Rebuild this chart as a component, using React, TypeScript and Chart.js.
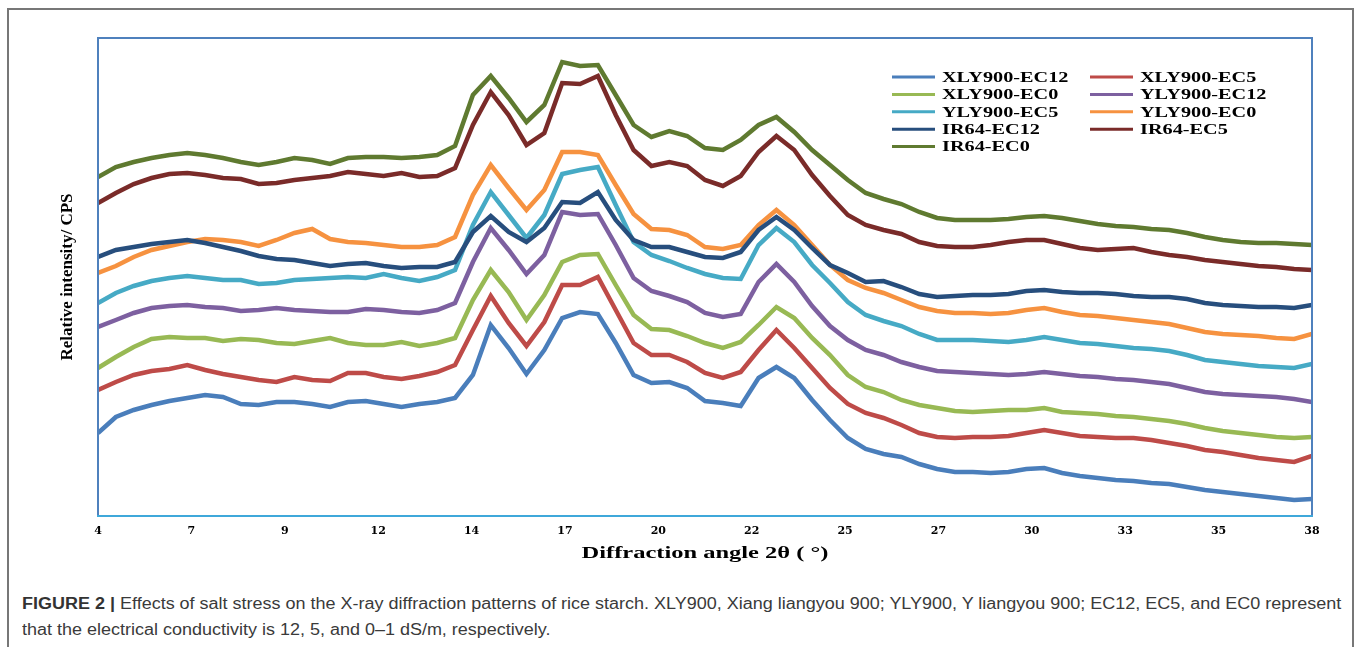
import React, { useEffect, useRef } from 'react';
import { Chart, registerables } from 'chart.js';

Chart.register(...registerables);

// Diffraction angle 2θ (degrees), sampled every 0.5°
const angles = [
  4, 4.5, 5, 5.5, 6, 6.5, 7, 7.5, 8, 8.5, 9, 9.5, 10, 10.5, 11, 11.5, 12, 12.5, 13, 13.5,
  14, 14.5, 15, 15.5, 16, 16.5, 17, 17.5, 18, 18.5, 19, 19.5, 20, 20.5, 21, 21.5, 22, 22.5, 23, 23.5,
  24, 24.5, 25, 25.5, 26, 26.5, 27, 27.5, 28, 28.5, 29, 29.5, 30, 30.5, 31, 31.5, 32, 32.5, 33, 33.5,
  34, 34.5, 35, 35.5, 36, 36.5, 37, 37.5, 38,
];

const xTickLabels = ['4', '7', '9', '12', '14', '17', '20', '22', '25', '27', '30', '33', '35', '38'];

const seriesNames = [
  'XLY900-EC12', 'XLY900-EC5', 'XLY900-EC0',
  'YLY900-EC12', 'YLY900-EC5', 'YLY900-EC0',
  'IR64-EC12', 'IR64-EC5', 'IR64-EC0',
];

const seriesColors = [
  '#4A7EBB', '#BE4B48', '#98B954',
  '#7D60A0', '#46AAC5', '#F69240',
  '#274E7D', '#7A2B29', '#5F7A30',
];

// Relative intensity (arbitrary, stacked offsets as plotted)
const xly900Ec12 = [
  83, 99, 106, 111, 115, 118, 121, 119, 112, 111,
  114, 114, 112, 109, 114, 115, 112, 109, 112, 114,
  118, 141, 191, 168, 142, 166, 198, 204, 202, 173,
  141, 133, 134, 128, 115, 113, 110, 138, 149, 138,
  116, 96, 78, 67, 62, 59, 52, 47, 44, 44,
  43, 44, 47, 48, 43, 40, 38, 36, 35, 33,
  32, 29, 26, 24, 22, 20, 18, 16, 17,
];
const xly900Ec5 = [
  126, 134, 141, 145, 147, 151, 146, 142, 139, 136,
  134, 139, 136, 135, 143, 143, 139, 137, 140, 144,
  151, 186, 220, 193, 170, 194, 231, 231, 239, 206,
  173, 161, 161, 154, 143, 138, 144, 166, 186, 168,
  148, 128, 112, 103, 98, 91, 83, 79, 78, 79,
  79, 80, 83, 86, 83, 80, 79, 78, 78, 76,
  73, 70, 66, 64, 61, 58, 56, 54, 60,
];
const xly900Ec0 = [
  148, 159, 169, 177, 179, 178, 178, 175, 177, 176,
  173, 172, 175, 178, 173, 171, 171, 174, 170, 173,
  178, 216, 246, 224, 196, 221, 254, 261, 262, 231,
  201, 187, 186, 180, 173, 168, 174, 191, 209, 198,
  178, 161, 141, 129, 124, 116, 111, 108, 105, 104,
  105, 106, 106, 108, 104, 103, 102, 100, 99, 97,
  95, 92, 88, 85, 83, 81, 79, 78, 79,
];
const yly900Ec12 = [
  189, 196, 203, 208, 210, 211, 209, 208, 205, 206,
  208, 206, 205, 204, 204, 207, 206, 204, 203, 206,
  213, 254, 288, 266, 242, 261, 304, 301, 302, 271,
  238, 225, 220, 214, 203, 199, 202, 234, 252, 234,
  210, 190, 176, 166, 161, 154, 149, 145, 144, 143,
  142, 141, 142, 144, 142, 140, 139, 137, 136, 134,
  132, 128, 124, 122, 121, 120, 119, 117, 114,
];
const yly900Ec5 = [
  213, 223, 230, 235, 238, 240, 238, 236, 236, 232,
  233, 236, 237, 238, 239, 238, 242, 238, 235, 239,
  246, 291, 324, 301, 278, 301, 342, 346, 349, 311,
  274, 261, 255, 248, 242, 238, 237, 271, 288, 274,
  251, 233, 214, 201, 195, 190, 182, 176, 176, 176,
  175, 174, 176, 179, 176, 173, 172, 170, 168, 167,
  165, 161, 156, 154, 152, 150, 149, 148, 152,
];
const yly900Ec0 = [
  243, 250, 259, 266, 270, 274, 277, 276, 274, 270,
  276, 283, 287, 277, 274, 273, 271, 269, 269, 271,
  279, 321, 351, 328, 306, 326, 364, 364, 361, 331,
  302, 287, 286, 281, 269, 267, 271, 291, 306, 291,
  271, 251, 236, 228, 223, 216, 209, 205, 203, 203,
  202, 203, 206, 208, 204, 201, 200, 198, 196, 194,
  192, 188, 184, 182, 181, 180, 178, 177, 182,
];
const ir64Ec12 = [
  259, 266, 269, 272, 274, 276, 273, 269, 265, 260,
  257, 256, 253, 250, 252, 253, 250, 248, 249, 249,
  254, 284, 300, 284, 274, 288, 314, 313, 324, 296,
  276, 269, 269, 264, 259, 258, 264, 286, 299, 286,
  268, 251, 243, 234, 235, 229, 222, 219, 220, 221,
  221, 222, 225, 226, 224, 223, 223, 222, 220, 219,
  219, 217, 213, 211, 210, 209, 209, 208, 211,
];
const ir64Ec5 = [
  313, 323, 332, 338, 342, 343, 341, 338, 337, 332,
  333, 336, 338, 340, 344, 342, 340, 343, 339, 340,
  348, 391, 424, 401, 371, 383, 433, 432, 440, 401,
  366, 350, 354, 350, 336, 330, 340, 364, 380, 366,
  341, 320, 301, 291, 286, 282, 274, 270, 269, 269,
  271, 274, 276, 276, 272, 268, 266, 267, 268, 264,
  261, 259, 256, 254, 252, 250, 249, 247, 246,
];
const ir64Ec0 = [
  339, 349, 354, 358, 361, 363, 361, 358, 354, 351,
  354, 358, 356, 352, 358, 359, 359, 358, 359, 361,
  370, 421, 440, 418, 394, 411, 454, 450, 451, 421,
  391, 379, 385, 380, 368, 366, 376, 391, 399, 384,
  366, 351, 336, 323, 317, 312, 304, 298, 296, 296,
  296, 297, 299, 300, 298, 295, 292, 290, 289, 287,
  286, 283, 279, 276, 274, 273, 273, 272, 271,
];

const X_MIN = 4;
const X_MAX = 38;
const Y_MIN = 0;
const Y_MAX = 478;

const framePlugin = {
  id: 'plotFrame',
  afterDatasetsDraw(chart: any) {
    const { ctx, chartArea } = chart;
    const { left, top, right, bottom } = chartArea;
    ctx.save();
    ctx.lineWidth = 2;
    ctx.strokeStyle = '#4F81BD';
    ctx.beginPath();
    ctx.moveTo(left, bottom);
    ctx.lineTo(left, top);
    ctx.lineTo(right, top);
    ctx.lineTo(right, bottom);
    ctx.stroke();
    ctx.strokeStyle = '#3FA8DA';
    ctx.beginPath();
    ctx.moveTo(left - 1, bottom);
    ctx.lineTo(right + 1, bottom);
    ctx.stroke();
    ctx.restore();
  },
};

const legendPlugin = {
  id: 'insetLegend',
  afterDraw(chart: any) {
    const { ctx } = chart;
    const colX = [892, 1090];
    const top = 77;
    const rowH = 17.4;
    ctx.save();
    chart.data.datasets.forEach((ds: any, i: number) => {
      const col = i % 2;
      const row = Math.floor(i / 2);
      const x0 = colX[col];
      const y = top + row * rowH;
      ctx.strokeStyle = ds.borderColor;
      ctx.lineWidth = 3;
      ctx.beginPath();
      ctx.moveTo(x0, y);
      ctx.lineTo(x0 + 43, y);
      ctx.stroke();
      ctx.save();
      ctx.translate(x0 + 50, y + 1);
      ctx.scale(1.35, 1);
      ctx.font = 'bold 15px "Liberation Serif"';
      ctx.fillStyle = '#000';
      ctx.textBaseline = 'middle';
      ctx.textAlign = 'left';
      ctx.fillText(ds.label, 0, 0);
      ctx.restore();
    });
    ctx.restore();
  },
};

export default function App() {
  const canvasRef = useRef<HTMLCanvasElement>(null);

  useEffect(() => {
    const seriesValues = [
      xly900Ec12, xly900Ec5, xly900Ec0,
      yly900Ec12, yly900Ec5, yly900Ec0,
      ir64Ec12, ir64Ec5, ir64Ec0,
    ];
    const chart = new Chart(canvasRef.current as HTMLCanvasElement, {
      type: 'line',
      data: {
        datasets: seriesNames.map((name, i) => ({
          label: name,
          data: angles.map((a, j) => ({ x: a, y: seriesValues[i][j] })),
          borderColor: seriesColors[i],
          backgroundColor: seriesColors[i],
          borderWidth: 4.5,
          pointRadius: 0,
          tension: 0,
          fill: false,
          order: seriesNames.length - i,
        })),
      },
      options: {
        responsive: false,
        animation: false,
        devicePixelRatio: 1,
        layout: { padding: { left: 0, top: 38, right: 46, bottom: 0 } },
        plugins: {
          legend: { display: false },
          tooltip: { enabled: false },
        },
        scales: {
          x: {
            type: 'linear',
            min: X_MIN,
            max: X_MAX,
            grid: { display: false, drawTicks: false },
            border: { display: false },
            afterBuildTicks: (scale: any) => {
              scale.ticks = xTickLabels.map((_, i) => ({
                value: X_MIN + (i * (X_MAX - X_MIN)) / (xTickLabels.length - 1),
              }));
            },
            afterFit: (scale: any) => {
              scale.height = 64;
            },
            ticks: {
              autoSkip: false,
              maxRotation: 0,
              padding: 9,
              color: '#000',
              font: { family: '"DejaVu Serif"', size: 11, weight: 'bold' },
              callback: (_v: any, i: number) => xTickLabels[i],
            },
          },
          y: {
            type: 'linear',
            min: Y_MIN,
            max: Y_MAX,
            grid: { display: false },
            border: { display: false },
            ticks: { display: false },
            afterFit: (scale: any) => {
              scale.width = 98;
            },
            title: {
              display: true,
              text: 'Relative intensity/ CPS',
              color: '#000',
              font: { family: '"Liberation Serif"', size: 17, weight: 'bold' },
              padding: { top: 57, bottom: 0 },
            },
          },
        },
      } as any,
      plugins: [framePlugin, legendPlugin],
    });
    return () => chart.destroy();
  }, []);

  return (
    <div
      style={{
        position: 'absolute',
        left: 0,
        top: 0,
        width: 1358,
        height: 647,
        background: '#fff',
        overflow: 'hidden',
      }}
    >
      <div
        style={{
          position: 'absolute',
          left: 7,
          top: 8,
          width: 1347,
          height: 700,
          border: '2px solid #777',
          boxSizing: 'border-box',
        }}
      />
      <canvas
        ref={canvasRef}
        width={1358}
        height={580}
        style={{ position: 'absolute', left: 0, top: 0 }}
      />
      <div
        style={{
          position: 'absolute',
          left: 0,
          top: 543,
          width: 1410,
          textAlign: 'center',
          font: 'bold 16px "Liberation Serif"',
          lineHeight: '20px',
          color: '#000',
          transform: 'scaleX(1.53)',
          transformOrigin: '705px 10px',
          whiteSpace: 'nowrap',
        }}
      >
        Diffraction angle 2θ ( °)
      </div>
      <div
        style={{
          position: 'absolute',
          left: 22,
          top: 591,
          width: 1200,
          font: '16px "Liberation Sans", Arial, sans-serif',
          lineHeight: '26px',
          color: '#3a3a3a',
          whiteSpace: 'nowrap',
          transform: 'scaleX(1.124)',
          transformOrigin: '0 0',
        }}
      >
        <b style={{ color: '#333' }}>FIGURE 2 |</b> Effects of salt stress on the X-ray diffraction patterns of rice
        starch. XLY900, Xiang liangyou 900; YLY900, Y liangyou 900; EC12, EC5, and EC0 represent
        <br />
        that the electrical conductivity is 12, 5, and 0–1 dS/m, respectively.
      </div>
    </div>
  );
}
